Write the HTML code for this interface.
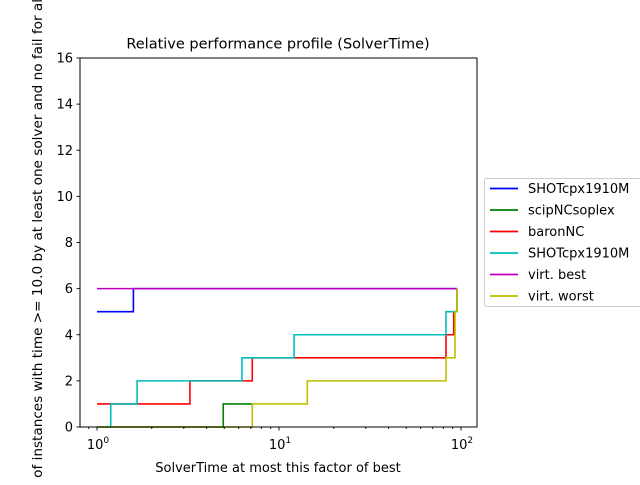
<!DOCTYPE html>
<html><head><meta charset="utf-8"><style>
body{margin:0;background:#fff;width:640px;height:480px;overflow:hidden;font-family:"Liberation Sans","DejaVu Sans",sans-serif}
</style></head><body>
<svg width="640" height="480" xmlns="http://www.w3.org/2000/svg" style="font-family:'DejaVu Sans','Liberation Sans',sans-serif;overflow:hidden">
<defs><clipPath id="fr"><rect width="640" height="480"/></clipPath></defs>
<rect width="640" height="480" fill="#fff"/>
<text x="278" y="48.5" font-size="14.5" text-anchor="middle">Relative performance profile (SolverTime)</text>
<g id="marks"></g>
<rect x="80" y="58" width="397" height="369" fill="none" stroke="#000" stroke-width="1"/>
<g id="axes" font-size="13"></g>
<text x="278" y="472" font-size="13" text-anchor="middle">SolverTime at most this factor of best</text>
<g clip-path="url(#fr)"><text transform="translate(42,266) rotate(-90)" font-size="13.6" text-anchor="middle">Number of instances with time &gt;= 10.0 by at least one solver and no fail for all</text></g>
<g id="legend" font-size="13"></g>
</svg>
<script>
const seriesNames=["SHOTcpx1910M","scipNCsoplex","baronNC","SHOTcpx1910M","virt. best","virt. worst"];
const seriesColors=["#0000ff","#008000","#ff0000","#00bfbf","#bf00bf","#bfbf00"];
// step points: [factor, count]
const shot1=[[1,5],[1.585,6],[95,6]];
const scip=[[1,0],[4.94,1],[7.13,1]];
const baron=[[1,1],[3.24,2],[7.13,3],[82.7,4],[91.2,5],[95,6]];
const shot2=[[1,0],[1.19,1],[1.66,2],[6.26,3],[12.1,4],[82.7,5],[95,6]];
const vbest=[[1,6],[95,6]];
const vworst=[[1,0],[7.13,1],[14.3,2],[82.7,3],[92.7,5],[95,6]];
const allSeries=[shot1,scip,baron,shot2,vbest,vworst];
const drawOrder=[0,1,2,3,4,5];
const yTicks=[0,2,4,6,8,10,12,14,16];
const xMajor=[1,10,100];
const xMajorLabels=["0","1","2"];
const NS="http://www.w3.org/2000/svg";
const X=v=>97+182*Math.log10(v);
const Y=v=>427-v*(369/16);
const marks=document.getElementById('marks');
drawOrder.forEach(i=>{
  const s=allSeries[i];let d="M"+X(s[0][0])+","+Y(s[0][1]);
  for(let k=1;k<s.length;k++){d+=" H"+X(s[k][0])+" V"+Y(s[k][1]);}
  const p=document.createElementNS(NS,'path');
  p.setAttribute('d',d);p.setAttribute('fill','none');p.setAttribute('stroke',seriesColors[i]);p.setAttribute('stroke-width','1.6');
  
  
  marks.appendChild(p);
});
const axes=document.getElementById('axes');
function line(x1,y1,x2,y2,parent){const l=document.createElementNS(NS,'line');l.setAttribute('x1',x1);l.setAttribute('y1',y1);l.setAttribute('x2',x2);l.setAttribute('y2',y2);l.setAttribute('stroke','#000');l.setAttribute('stroke-width','0.9');parent.appendChild(l);return l;}
yTicks.forEach(v=>{
  const l=line(80,Y(v),76.5,Y(v),axes);
  
  
  const t=document.createElementNS(NS,'text');t.setAttribute('x',73);t.setAttribute('y',Y(v)+4.5);t.setAttribute('text-anchor','end');t.textContent=v;
  
  
  axes.appendChild(t);
});
xMajor.forEach((v,i)=>{
  const l=line(X(v),427,X(v),430.5,axes);
  
  
  const t=document.createElementNS(NS,'text');t.setAttribute('x',X(v)+1);t.setAttribute('y',449);t.setAttribute('text-anchor','middle');t.textContent="10";
  const s=document.createElementNS(NS,'tspan');s.setAttribute('dy','-6');s.setAttribute('font-size','9');s.textContent=xMajorLabels[i];t.appendChild(s);
  
  
  axes.appendChild(t);
});
for(let dec=0.1;dec<=100;dec*=10){for(let m=2;m<=9;m++){const v=dec*m;const x=X(v);if(x>80&&x<477){const l=line(x,427,x,429,axes);
  
  }}}
const lg=document.getElementById('legend');
const box=document.createElementNS(NS,'rect');box.setAttribute('x',484.5);box.setAttribute('y',178.5);box.setAttribute('width',170);box.setAttribute('height',128);box.setAttribute('rx',2);box.setAttribute('fill','#fff');box.setAttribute('stroke','#ccc');


lg.appendChild(box);
seriesNames.forEach((n,i)=>{
  const y=188.5+i*21.5;
  const l=document.createElementNS(NS,'line');l.setAttribute('x1',490);l.setAttribute('x2',518);l.setAttribute('y1',y);l.setAttribute('y2',y);l.setAttribute('stroke',seriesColors[i]);l.setAttribute('stroke-width','1.8');
  
  
  lg.appendChild(l);
  const t=document.createElementNS(NS,'text');t.setAttribute('x',528);t.setAttribute('y',y+4.5);t.textContent=n;
  
  
  lg.appendChild(t);
});
</script>
</body></html>
